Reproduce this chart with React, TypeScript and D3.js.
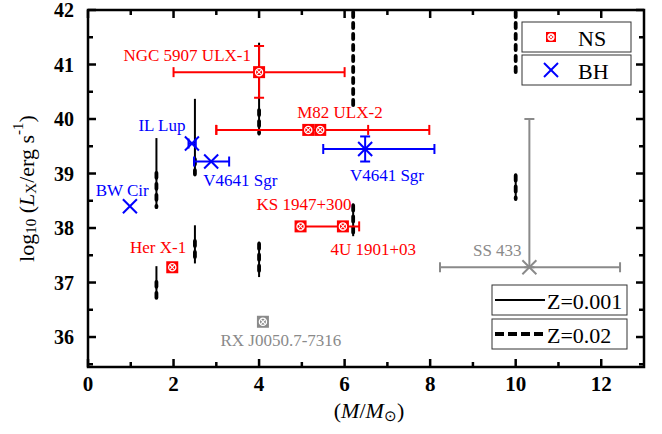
import React from "react";
import * as d3 from "d3";

// ---- data ----
const xTicksMajor = [0, 2, 4, 6, 8, 10, 12];
const yTicksMajor = [36, 37, 38, 39, 40, 41, 42];

// [mass, logL low, logL high]
const solidSegs: [number, number, number][] = [
  [1.6, 38.35, 39.65],
  [1.6, 36.75, 37.3],
  [2.5, 38.95, 40.37],
  [2.5, 37.35, 38.05],
  [4.0, 39.7, 41.4],
  [4.0, 37.1, 37.75],
  [6.2, 37.85, 38.45],
  [10.0, 38.5, 39.0],
];
const dashedSegs: [number, number, number][] = [
  [1.6, 38.35, 39.05],
  [1.6, 36.6, 37.05],
  [2.5, 38.95, 39.3],
  [2.5, 37.35, 37.8],
  [4.0, 39.7, 40.2],
  [4.0, 37.1, 37.75],
  [6.2, 40.22, 42.0],
  [6.2, 37.85, 38.45],
  [10.0, 40.8, 42.0],
  [10.0, 38.5, 39.0],
];

type Pt = { mass: number; logL: number; xLo?: number; xHi?: number; yLo?: number; yHi?: number; color: string };

const nsPoints: Pt[] = [
  { mass: 4.0, logL: 40.86, xLo: 2.0, xHi: 6.0, yLo: 40.39, yHi: 41.34, color: "#ff0000" },
  { mass: 5.15, logL: 39.8, xLo: 3.0, xHi: 6.55, color: "#ff0000" },
  { mass: 5.43, logL: 39.8, xLo: 3.0, xHi: 7.98, color: "#ff0000" },
  { mass: 4.97, logL: 38.03, xLo: 4.97, xHi: 6.34, color: "#ff0000" },
  { mass: 5.96, logL: 38.03, color: "#ff0000" },
  { mass: 1.97, logL: 37.28, color: "#ff0000" },
  { mass: 4.09, logL: 36.28, color: "#8a8a8a" },
];
const bhPoints: Pt[] = [
  { mass: 2.43, logL: 39.55, xLo: 2.35, xHi: 2.52, color: "#0000ff" },
  { mass: 2.88, logL: 39.22, xLo: 2.48, xHi: 3.3, color: "#0000ff" },
  { mass: 6.48, logL: 39.45, xLo: 5.5, xHi: 8.1, yLo: 39.22, yHi: 39.68, color: "#0000ff" },
  { mass: 0.98, logL: 38.4, color: "#0000ff" },
  { mass: 10.32, logL: 37.28, xLo: 8.23, xHi: 12.44, yLo: 37.28, yHi: 40.0, color: "#8a8a8a" },
];

const labels: { text: string; x: number; y: number; color: string }[] = [
  { text: "NGC 5907 ULX-1", x: 2.32, y: 41.16, color: "#ff0000" },
  { text: "M82 ULX-2", x: 5.89, y: 40.12, color: "#ff0000" },
  { text: "IL Lup", x: 1.73, y: 39.88, color: "#0000ff" },
  { text: "V4641 Sgr", x: 3.56, y: 38.87, color: "#0000ff" },
  { text: "V4641 Sgr", x: 6.99, y: 38.97, color: "#0000ff" },
  { text: "BW Cir", x: 0.8, y: 38.69, color: "#0000ff" },
  { text: "KS 1947+300", x: 5.05, y: 38.44, color: "#ff0000" },
  { text: "4U 1901+03", x: 6.67, y: 37.61, color: "#ff0000" },
  { text: "Her X-1", x: 1.64, y: 37.65, color: "#ff0000" },
  { text: "SS 433", x: 9.57, y: 37.59, color: "#8a8a8a" },
  { text: "RX J0050.7-7316", x: 4.51, y: 35.93, color: "#8a8a8a" },
];

// ---- layout ----
const W = 662, H = 434;
const L = 88, R = 644, T = 10, B = 367;
const FONT = "'Liberation Serif', 'Times New Roman', serif";

const x = d3.scaleLinear().domain([0, 13]).range([L, R]);
const y = d3.scaleLinear().domain([35.45, 42]).range([B, T]);

function NSMarker({ cx, cy, color, s = 6 }: { cx: number; cy: number; color: string; s?: number }) {
  const r = s * 0.6;
  const k = r * 0.7;
  return (
    <g>
      <rect x={cx - s} y={cy - s} width={2 * s} height={2 * s} fill={color} />
      <circle cx={cx} cy={cy} r={r} fill="none" stroke="#fff" strokeWidth={1.3} />
      <line x1={cx - k} y1={cy - k} x2={cx + k} y2={cy + k} stroke="#fff" strokeWidth={1.1} />
      <line x1={cx - k} y1={cy + k} x2={cx + k} y2={cy - k} stroke="#fff" strokeWidth={1.1} />
    </g>
  );
}
function BHMarker({ cx, cy, color }: { cx: number; cy: number; color: string }) {
  const s = 7;
  return (
    <g stroke={color} strokeWidth={2}>
      <line x1={cx - s} y1={cy - s} x2={cx + s} y2={cy + s} />
      <line x1={cx - s} y1={cy + s} x2={cx + s} y2={cy - s} />
    </g>
  );
}
function ErrBars({ p }: { p: Pt }) {
  const cap = 5;
  const cx = x(p.mass), cy = y(p.logL);
  return (
    <g stroke={p.color} strokeWidth={2}>
      {p.xLo !== undefined && p.xHi !== undefined && (
        <>
          <line x1={x(p.xLo)} x2={x(p.xHi)} y1={cy} y2={cy} />
          <line x1={x(p.xLo)} x2={x(p.xLo)} y1={cy - cap} y2={cy + cap} />
          <line x1={x(p.xHi)} x2={x(p.xHi)} y1={cy - cap} y2={cy + cap} />
        </>
      )}
      {p.yLo !== undefined && p.yHi !== undefined && (
        <>
          <line x1={cx} x2={cx} y1={y(p.yLo)} y2={y(p.yHi)} />
          <line x1={cx - cap} x2={cx + cap} y1={y(p.yLo)} y2={y(p.yLo)} />
          <line x1={cx - cap} x2={cx + cap} y1={y(p.yHi)} y2={y(p.yHi)} />
        </>
      )}
    </g>
  );
}

export default function App() {
  const xMinor = d3.range(1, 13, 2);
  const yMinor = d3.range(35.5, 42, 1);
  const maj = 8, mnr = 5;
  return (
    <svg width={W} height={H} style={{ position: "absolute", left: 0, top: 0, background: "#fff" }} fontFamily={FONT}>
      {/* vertical model lines */}
      {solidSegs.map((s, i) => (
        <line key={"s" + i} x1={x(s[0])} x2={x(s[0])} y1={y(s[1])} y2={y(s[2])} stroke="#000" strokeWidth={2} />
      ))}
      {dashedSegs.map((s, i) => (
        <line key={"d" + i} x1={x(s[0])} x2={x(s[0])} y1={y(s[2]) + 2} y2={y(s[1]) - 2} stroke="#000" strokeWidth={3.8}
          strokeDasharray="5,6" strokeLinecap="round" />
      ))}

      {/* error bars */}
      {[...nsPoints, ...bhPoints].map((p, i) => <ErrBars key={"e" + i} p={p} />)}
      {nsPoints.map((p, i) => <NSMarker key={"n" + i} cx={x(p.mass)} cy={y(p.logL)} color={p.color} />)}
      {bhPoints.map((p, i) => <BHMarker key={"b" + i} cx={x(p.mass)} cy={y(p.logL)} color={p.color} />)}

      {/* labels */}
      {labels.map((l, i) => (
        <text key={"l" + i} x={x(l.x)} y={y(l.y)} fill={l.color} fontSize={17} textAnchor="middle" dominantBaseline="central">
          {l.text}
        </text>
      ))}

      {/* legends */}
      <g>
        <rect x={522} y={22} width={109} height={30} fill="#fff" stroke="#333" strokeWidth={1} />
        <NSMarker cx={551} cy={37} color="#ff0000" s={5} />
        <text x={578} y={38} fontSize={22} dominantBaseline="central">NS</text>
        <rect x={522} y={55} width={109} height={30} fill="#fff" stroke="#333" strokeWidth={1} />
        <BHMarker cx={551} cy={70} color="#0000ff" />
        <text x={578} y={71} fontSize={22} dominantBaseline="central">BH</text>
      </g>
      <g>
        <rect x={492} y={285} width={135} height={30} fill="#fff" stroke="#333" strokeWidth={1} />
        <line x1={495} x2={545} y1={300} y2={300} stroke="#000" strokeWidth={2} />
        <text x={547} y={301} fontSize={22} dominantBaseline="central">Z=0.001</text>
        <rect x={492} y={319} width={135} height={30} fill="#fff" stroke="#333" strokeWidth={1} />
        <line x1={495} x2={545} y1={334} y2={334} stroke="#000" strokeWidth={4} strokeDasharray="9,4" />
        <text x={547} y={335} fontSize={22} dominantBaseline="central">Z=0.02</text>
      </g>

      {/* axes frame */}
      <rect x={L} y={T} width={R - L} height={B - T} fill="none" stroke="#000" strokeWidth={2.5} />
      {xTicksMajor.map((t) => (
        <g key={"xt" + t}>
          <line x1={x(t)} x2={x(t)} y1={B} y2={B - maj} stroke="#000" strokeWidth={2.5} />
          <line x1={x(t)} x2={x(t)} y1={T} y2={T + maj} stroke="#000" strokeWidth={2.5} />
          <text x={x(t)} y={B + 17} fontSize={21} fontWeight="bold" textAnchor="middle" dominantBaseline="central">{t}</text>
        </g>
      ))}
      {xMinor.map((t) => (
        <g key={"xm" + t}>
          <line x1={x(t)} x2={x(t)} y1={B} y2={B - mnr} stroke="#000" strokeWidth={2.5} />
          <line x1={x(t)} x2={x(t)} y1={T} y2={T + mnr} stroke="#000" strokeWidth={2.5} />
        </g>
      ))}
      {yTicksMajor.map((t) => (
        <g key={"yt" + t}>
          <line x1={L} x2={L + maj} y1={y(t)} y2={y(t)} stroke="#000" strokeWidth={2.5} />
          <line x1={R} x2={R - maj} y1={y(t)} y2={y(t)} stroke="#000" strokeWidth={2.5} />
          <text x={L - 14} y={y(t)} fontSize={20} fontWeight="bold" textAnchor="end" dominantBaseline="central">{t}</text>
        </g>
      ))}
      {yMinor.map((t) => (
        <g key={"ym" + t}>
          <line x1={L} x2={L + mnr} y1={y(t)} y2={y(t)} stroke="#000" strokeWidth={2.5} />
          <line x1={R} x2={R - mnr} y1={y(t)} y2={y(t)} stroke="#000" strokeWidth={2.5} />
        </g>
      ))}

      {/* axis titles */}
      <text x={(L + R) / 2 + 3} y={410} fontSize={22} textAnchor="middle" dominantBaseline="central">
        (<tspan fontStyle="italic">M</tspan>/<tspan fontStyle="italic">M</tspan>
        <tspan fontSize={15} dy={6}>⊙</tspan><tspan dy={-6}>)</tspan>
      </text>
      <text transform={`translate(26, ${(T + B) / 2}) rotate(-90)`} fontSize={22} textAnchor="middle" dominantBaseline="central">
        log<tspan fontSize={15} dy={5}>10</tspan><tspan dy={-5}> (</tspan>
        <tspan fontStyle="italic">L</tspan><tspan fontSize={15} dy={5}>X</tspan>
        <tspan dy={-5}>/erg s</tspan><tspan fontSize={15} dy={-8}>-1</tspan><tspan dy={8}>)</tspan>
      </text>
    </svg>
  );
}
